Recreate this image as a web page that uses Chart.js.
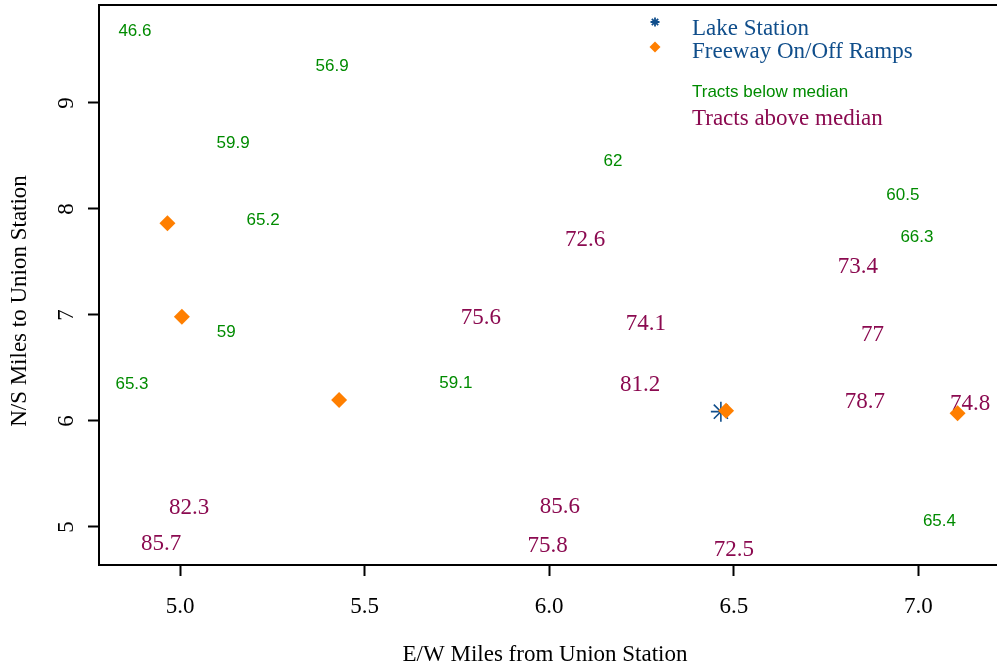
<!DOCTYPE html>
<html>
<head>
<meta charset="utf-8">
<script src="https://cdn.jsdelivr.net/npm/chart.js@4/dist/chart.umd.min.js"></script>
<style>
  html, body { margin: 0; padding: 0; background: #fff; }
  #map { display: block; }
</style>
</head>
<body>
<canvas id="map" width="997" height="670"></canvas>
<script>
// tract centroids, miles from Union Station, with the tract value printed there
const belowX   = [4.878, 5.412, 5.144, 5.225, 6.173, 6.958, 6.996, 5.125, 4.870, 5.747, 7.057];
const belowY   = [9.689, 9.358, 8.632, 7.906, 8.462, 8.142, 7.745, 6.849, 6.361, 6.371, 5.066];
const belowVal = ['46.6', '56.9', '59.9', '65.2', '62', '60.5', '66.3', '59', '65.3', '59.1', '65.4'];

const aboveX   = [6.097, 6.836, 5.815, 6.262, 6.876, 6.246, 6.855, 7.140, 5.025, 4.949, 6.029, 5.996, 6.500];
const aboveY   = [7.726, 7.472, 6.993, 6.934, 6.833, 6.356, 6.192, 6.182, 5.198, 4.852, 5.208, 4.837, 4.799];
const aboveVal = ['72.6', '73.4', '75.6', '74.1', '77', '81.2', '78.7', '74.8', '82.3', '85.7', '85.6', '75.8', '72.5'];

const rampX = [4.966, 5.005, 5.431, 6.479, 7.106];
const rampY = [7.865, 6.984, 6.198, 6.097, 6.073];

const stationX = [6.465];
const stationY = [6.088];

const xTicks = [5.0, 5.5, 6.0, 6.5, 7.0];
const yTicks = [5, 6, 7, 8, 9];

const GREEN = '#008B00';
const PURPLE = '#8B0A50';
const BLUE = '#104E8B';
const ORANGE = '#FF7F00';
const SERIF = '"Liberation Serif", "Times New Roman", serif';
const SANS = '"Liberation Sans", Arial, sans-serif';

const pts = (xs, ys) => xs.map((x, i) => ({ x: x, y: ys[i] }));

// numbers are drawn centred on each tract point, under the markers
const tractLabels = {
  id: 'tractLabels',
  beforeDatasetsDraw(chart) {
    const ctx = chart.ctx;
    chart.data.datasets.forEach((ds, i) => {
      if (!ds.labels) return;
      const meta = chart.getDatasetMeta(i);
      ctx.save();
      ctx.font = ds.labelFont;
      ctx.fillStyle = ds.labelColor;
      ctx.textAlign = 'center';
      ctx.textBaseline = 'alphabetic';
      meta.data.forEach((pt, j) => {
        ctx.fillText(ds.labels[j], pt.x, pt.y + ds.labelShift);
      });
      ctx.restore();
    });
  }
};

// top edge of the box plus the axis titles
const frame = {
  id: 'frame',
  afterDraw(chart) {
    const ctx = chart.ctx;
    const a = chart.chartArea;
    ctx.save();
    ctx.strokeStyle = '#000';
    ctx.lineWidth = 2;
    ctx.beginPath();
    ctx.moveTo(a.left - 1, a.top);
    ctx.lineTo(a.right, a.top);
    ctx.stroke();

    ctx.fillStyle = '#000';
    ctx.font = '23px ' + SERIF;
    ctx.textAlign = 'center';
    ctx.textBaseline = 'middle';
    ctx.fillText('E/W Miles from Union Station', 545, 655);
    ctx.translate(20, 301);
    ctx.rotate(-Math.PI / 2);
    ctx.fillText('N/S Miles to Union Station', 0, 0);
    ctx.restore();
  }
};

const keyBox = {
  id: 'keyBox',
  afterDraw(chart) {
    const ctx = chart.ctx;
    const draw = Chart.helpers.drawPoint;
    ctx.save();
    ctx.strokeStyle = BLUE;
    ctx.lineWidth = 1.8;
    draw(ctx, { pointStyle: 'star', radius: 4.5, borderWidth: 1.8, rotation: 0 }, 655, 22);
    ctx.fillStyle = ORANGE;
    draw(ctx, { pointStyle: 'rectRot', radius: 5.5, borderWidth: 0, rotation: 0 }, 655, 47);

    ctx.textAlign = 'left';
    ctx.textBaseline = 'alphabetic';
    ctx.font = '23px ' + SERIF;
    ctx.fillStyle = BLUE;
    ctx.fillText('Lake Station', 692, 35);
    ctx.fillText('Freeway On/Off Ramps', 692, 58);
    ctx.font = '17px ' + SANS;
    ctx.fillStyle = GREEN;
    ctx.fillText('Tracts below median', 692, 97);
    ctx.font = '23px ' + SERIF;
    ctx.fillStyle = PURPLE;
    ctx.fillText('Tracts above median', 692, 125);
    ctx.restore();
  }
};

new Chart(document.getElementById('map'), {
  type: 'scatter',
  data: {
    datasets: [
      {
        label: 'Freeway On/Off Ramps',
        data: pts(rampX, rampY),
        pointStyle: 'rectRot',
        pointRadius: 8,
        backgroundColor: ORANGE,
        borderWidth: 0
      },
      {
        label: 'Lake Station',
        data: pts(stationX, stationY),
        pointStyle: 'star',
        pointRadius: 10,
        borderColor: BLUE,
        borderWidth: 1.6
      },
      {
        label: 'Tracts below median',
        data: pts(belowX, belowY),
        pointRadius: 0,
        labels: belowVal,
        labelFont: '17px ' + SANS,
        labelColor: GREEN,
        labelShift: 6
      },
      {
        label: 'Tracts above median',
        data: pts(aboveX, aboveY),
        pointRadius: 0,
        labels: aboveVal,
        labelFont: '23px ' + SERIF,
        labelColor: PURPLE,
        labelShift: 7.8
      }
    ]
  },
  options: {
    responsive: false,
    animation: false,
    events: [],
    layout: { autoPadding: false, padding: { left: 0, top: 5, right: 0, bottom: 0 } },
    plugins: {
      legend: { display: false },
      tooltip: { enabled: false }
    },
    scales: {
      x: {
        type: 'linear',
        min: 4.7806,
        max: 7.2129,
        afterFit: s => { s.height = 105; s.paddingLeft = 0; s.paddingRight = 0; },
        afterBuildTicks: s => { s.ticks = xTicks.map(v => ({ value: v })); },
        border: { color: '#000', width: 2 },
        grid: { drawOnChartArea: false, color: '#000', tickLength: 11, tickWidth: 2, tickColor: '#000' },
        ticks: {
          color: '#000',
          font: { family: SERIF, size: 23 },
          padding: 17,
          maxRotation: 0,
          callback: v => v.toFixed(1)
        }
      },
      y: {
        type: 'linear',
        min: 4.6415,
        max: 9.9245,
        afterFit: s => { s.width = 99; s.paddingTop = 0; s.paddingBottom = 0; },
        afterBuildTicks: s => { s.ticks = yTicks.map(v => ({ value: v })); },
        border: { color: '#000', width: 2 },
        grid: { drawOnChartArea: false, color: '#000', tickLength: 11, tickWidth: 2, tickColor: '#000' },
        ticks: {
          color: '#000',
          font: { family: SERIF, size: 23 },
          padding: 15,
          minRotation: 90,
          maxRotation: 90,
          crossAlign: 'center',
          callback: v => String(v)
        }
      }
    }
  },
  plugins: [tractLabels, frame, keyBox]
});
</script>
</body>
</html>
